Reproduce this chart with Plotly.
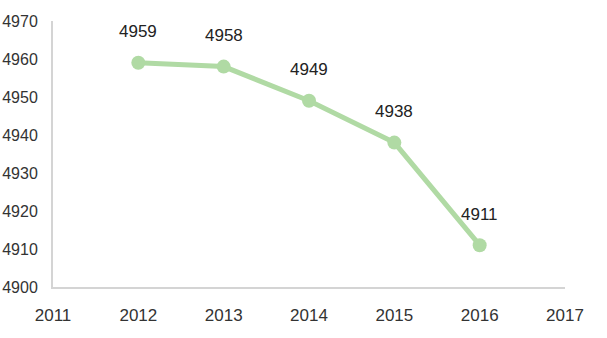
import plotly.graph_objects as go

years = [2012, 2013, 2014, 2015, 2016]
values = [4959, 4958, 4949, 4938, 4911]
x_ticks = [2011, 2012, 2013, 2014, 2015, 2016, 2017]
y_ticks = [4900, 4910, 4920, 4930, 4940, 4950, 4960, 4970]

green = "rgb(176,218,164)"
font_family = "Liberation Sans, Arial, sans-serif"
fsize = 17

fig = go.Figure()
fig.add_trace(go.Scatter(
    x=years, y=values, mode="lines+markers",
    line=dict(color=green, width=5),
    marker=dict(color=green, size=14),
    hoverinfo="skip",
))
for xv, yv in zip(years, values):
    fig.add_annotation(x=xv, y=yv, text=str(yv), showarrow=False,
                       yshift=31, font=dict(size=fsize, color="#222222", family=font_family))

fig.update_layout(
    width=607, height=338,
    margin=dict(l=53, r=42, t=21, b=51),
    plot_bgcolor="white", paper_bgcolor="white",
    showlegend=False,
    font=dict(family=font_family, size=fsize, color="#333333"),
    xaxis=dict(range=[2011, 2017], tickvals=x_ticks, ticktext=[str(v) for v in x_ticks],
               showgrid=False, zeroline=False, showline=True, linecolor="#d4d4d4", linewidth=2,
               ticks="outside", ticklen=12, tickcolor="rgba(0,0,0,0)", automargin=False),
    yaxis=dict(range=[4900, 4970], tickvals=y_ticks, ticktext=[str(v) for v in y_ticks],
               showgrid=False, zeroline=False, showline=True, linecolor="#d4d4d4", linewidth=2,
               ticks="outside", ticklen=10, tickcolor="rgba(0,0,0,0)", automargin=False,
               tickfont=dict(size=16)),
)
fig.write_html("out.html")
